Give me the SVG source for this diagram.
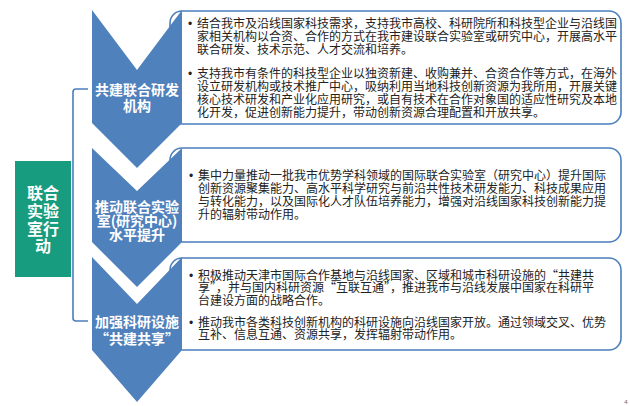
<svg xmlns="http://www.w3.org/2000/svg" width="630" height="406" viewBox="0 0 630 406">
<style>
.box{fill:#fff;stroke:#4a7ebb;stroke-width:1.6}
.chev{fill:#4f81bd}
.ct{font-family:"Noto Sans CJK SC","Microsoft YaHei",sans-serif;font-size:14px;font-weight:bold;fill:#fff;text-anchor:middle}
.bt{font-family:"Noto Sans CJK SC",sans-serif;font-size:12px;fill:#222}
.bul{font-family:"Liberation Sans",sans-serif;font-size:12px;fill:#222}
.gt{font-family:"Noto Sans CJK SC",sans-serif;font-size:16px;font-weight:bold;fill:#fff;text-anchor:middle}
</style>
<rect width="630" height="406" fill="#fff"/>
<g id="connectors">
<path d="M88,89 L76,89 Q73,89 73,92 L73,318 Q73,321 76,321 L88,321" fill="none" stroke="#4a7ebb" stroke-width="1.6"/>
</g>
<g id="root">
<rect x="15" y="161" width="56" height="116" fill="#179c7f"/>
<text class="gt" x="43" y="199">联合</text>
<text class="gt" x="43" y="217">实验</text>
<text class="gt" x="43" y="235">室行</text>
<text class="gt" x="43" y="252">动</text>
</g>
<g id="box1">
<rect class="box" x="170" y="11" width="451" height="113" rx="12"/>
<text class="bul" x="188" y="27.5">•</text>
<text class="bt" x="197" y="27.5">结合我市及沿线国家科技需求，支持我市高校、科研院所和科技型企业与沿线国</text>
<text class="bt" x="197" y="40.5">家相关机构以合资、合作的方式在我市建设联合实验室或研究中心，开展高水平</text>
<text class="bt" x="197" y="53.5">联合研发、技术示范、人才交流和培养。</text>
<text class="bul" x="188" y="77.5">•</text>
<text class="bt" x="197" y="77.5">支持我市有条件的科技型企业以独资新建、收购兼并、合资合作等方式，在海外</text>
<text class="bt" x="197" y="90.5">设立研发机构或技术推广中心，吸纳利用当地科技创新资源为我所用，开展关键</text>
<text class="bt" x="197" y="103.5">核心技术研发和产业化应用研究，或自有技术在合作对象国的适应性研究及本地</text>
<text class="bt" x="197" y="116.5">化开发，促进创新能力提升，带动创新资源合理配置和开放共享。</text>
</g>
<g id="box2">
<rect class="box" x="170" y="148" width="451" height="94" rx="12"/>
<text class="bul" x="189" y="179.5">•</text>
<text class="bt" x="198" y="179.5">集中力量推动一批我市优势学科领域的国际联合实验室（研究中心）提升国际</text>
<text class="bt" x="198" y="192.5">创新资源聚集能力、高水平科学研究与前沿共性技术研发能力、科技成果应用</text>
<text class="bt" x="198" y="205.5">与转化能力，以及国际化人才队伍培养能力，增强对沿线国家科技创新能力提</text>
<text class="bt" x="198" y="218.5">升的辐射带动作用。</text>
</g>
<g id="box3">
<rect class="box" x="170" y="258" width="451" height="92" rx="12"/>
<text class="bul" x="189" y="279.5">•</text>
<text class="bt" x="198" y="279.5">积极推动天津市国际合作基地与沿线国家、区域和城市科研设施的“共建共</text>
<text class="bt" x="198" y="292">享”，并与国内科研资源“互联互通”，推进我市与沿线发展中国家在科研平</text>
<text class="bt" x="198" y="304.5">台建设方面的战略合作。</text>
<text class="bul" x="189" y="326.5">•</text>
<text class="bt" x="198" y="326.5">推动我市各类科技创新机构的科研设施向沿线国家开放。通过领域交叉、优势</text>
<text class="bt" x="198" y="338.5">互补、信息互通、资源共享，发挥辐射带动作用。</text>
</g>
<g id="chevron1">
<path class="chev" d="M92,10 L137,70 L182,10 L182,123 L137,168 L92,123 Z"/>
<text class="ct" x="137" y="95">共建联合研发</text>
<text class="ct" x="137" y="111">机构</text>
</g>
<g id="chevron2">
<path class="chev" d="M92,148 L137,191 L182,148 L182,242 L137,287 L92,242 Z"/>
<text class="ct" x="137" y="212">推动联合实验</text>
<text class="ct" x="137" y="226">室(研究中心)</text>
<text class="ct" x="137" y="240">水平提升</text>
</g>
<g id="chevron3">
<path class="chev" d="M92,257 L137,304 L182,257 L182,350 L137,402 L92,350 Z"/>
<text class="ct" x="137" y="327">加强科研设施</text>
<text class="ct" x="137" y="344">“共建共享”</text>
</g>
<text x="626" y="404" font-family="Liberation Sans,sans-serif" font-size="6" fill="#666" text-anchor="middle">4</text>
</svg>
